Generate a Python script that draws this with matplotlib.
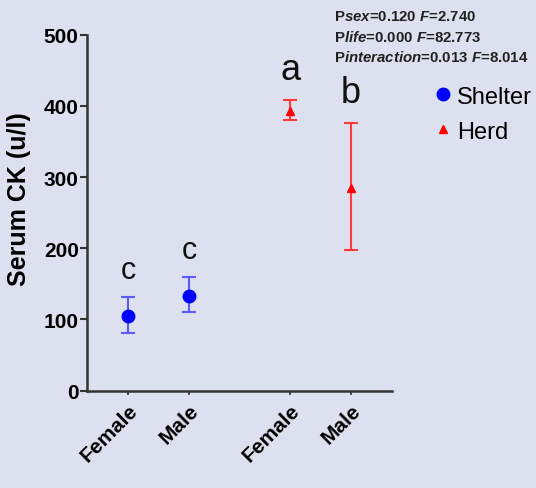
from matplotlib import pyplot as plt
import numpy as np

# Serum CK (u/l), mean with error bar limits per group
groups = ["Shelter", "Herd"]
tick_labels = ["Female", "Male", "Female", "Male"]

shelter_mean = [105, 133]
shelter_low = [81, 110]
shelter_high = [131, 159]

herd_mean = [393, 284]
herd_low = [380, 197]
herd_high = [408, 376]

letters = ["c", "c", "a", "b"]
stats_lines = [
    r"P$\it{sex}$=0.120 $\it{F}$=2.740",
    r"P$\it{life}$=0.000 $\it{F}$=82.773",
    r"P$\it{interaction}$=0.013 $\it{F}$=8.014",
]

bg = "#dde0ef"
plt.rcParams["font.family"] = ["Liberation Sans", "DejaVu Sans"]
plt.rcParams["mathtext.fontset"] = "custom"
plt.rcParams["mathtext.rm"] = "Liberation Sans:bold"
plt.rcParams["mathtext.it"] = "Liberation Sans:italic:bold"
plt.rcParams["mathtext.bf"] = "Liberation Sans:bold"

fig = plt.figure(figsize=(5.36, 4.89), dpi=100, facecolor=bg)
ax = fig.add_axes([0.1623, 0.199, 0.569, 0.728], facecolor=bg)

x_shelter = np.array([1.0, 2.0])
x_herd = np.array([3.65, 4.65])

def draw_group(x, mean, low, high, marker, color, ecolor, ms, label):
    mean = np.array(mean)
    err = [mean - np.array(low), np.array(high) - mean]
    ax.errorbar(x, mean, yerr=err, fmt="none", ecolor=ecolor, elinewidth=1.5,
                capsize=5, capthick=1.5, zorder=2)
    ax.plot(x, mean, linestyle="none", marker=marker, color=color,
            markersize=ms, label=label, zorder=3)

draw_group(x_shelter, shelter_mean, shelter_low, shelter_high,
           "o", "#0000ff", "#5a5aff", 9, groups[0])
draw_group(x_herd, herd_mean, herd_low, herd_high,
           "^", "#ff0000", "#ff3a3a", 6, groups[1])

# group letters above each error bar
all_x = np.concatenate([x_shelter, x_herd])
all_high = shelter_high + herd_high
sizes = [22, 22, 26, 26]
for xi, top, letter, fs in zip(all_x, all_high, letters, sizes):
    ax.text(xi, top + 18, letter, ha="center", va="bottom", fontsize=fs,
            color="#111111")

ax.set_xlim(0.32, 5.32)
ax.set_ylim(0, 500)
ax.set_yticks([0, 100, 200, 300, 400, 500])
ax.set_xticks(all_x)
ax.set_xticklabels(tick_labels, rotation=45, ha="right", rotation_mode="anchor",
                   fontsize=15, fontweight="bold")
for lbl in ax.get_yticklabels():
    lbl.set_fontsize(15)
    lbl.set_fontweight("bold")
ax.set_ylabel("Serum CK (u/l)", fontsize=18, fontweight="bold")
ax.yaxis.set_label_coords(-0.185, 0.54)

for side in ["top", "right"]:
    ax.spines[side].set_visible(False)
for side in ["left", "bottom"]:
    ax.spines[side].set_linewidth(1.8)
    ax.spines[side].set_color("#333333")
ax.tick_params(axis="y", length=5, width=1.5, color="#333333", pad=1)
ax.tick_params(axis="x", length=3, width=1.2, color="#333333", pad=4)

leg = fig.legend(loc="upper left", bbox_to_anchor=(0.8, 0.823), frameon=False,
                 fontsize=17, handletextpad=0.0, handlelength=1.2,
                 labelspacing=0.55, borderaxespad=0.0, borderpad=0.0)

for i, line in enumerate(stats_lines):
    fig.text(0.624, 0.966 - i * 0.042, line, fontsize=10.8, va="center",
             color="#222222", fontweight="bold")

fig.savefig("out.png", dpi=100, facecolor=bg)
